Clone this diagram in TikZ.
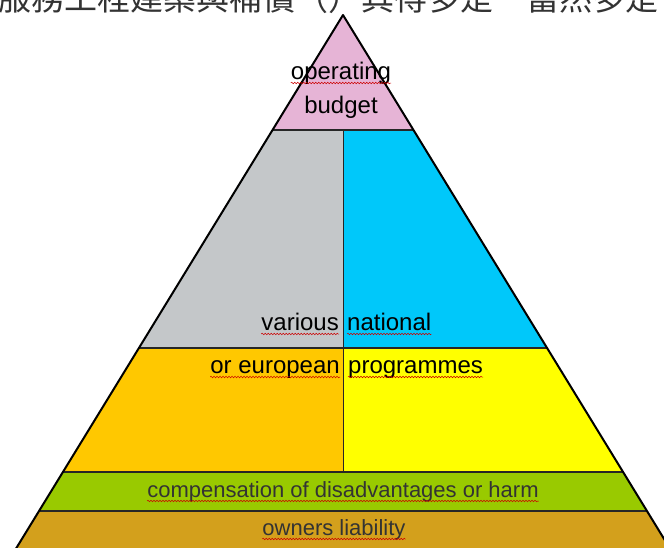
\documentclass[tikz,border=0pt]{standalone}
\usepackage{fontspec}
\setmainfont{Liberation Sans}
\newfontfamily\cjkfont{Noto Sans CJK TC}
\usetikzlibrary{decorations.pathmorphing}

\definecolor{budgetPink}{HTML}{E6B4D6}
\definecolor{variousGray}{HTML}{C4C7C9}
\definecolor{nationalBlue}{HTML}{00C8FA}
\definecolor{europeOrange}{HTML}{FFC800}
\definecolor{programYellow}{HTML}{FFFF00}
\definecolor{harmGreen}{HTML}{99CA00}
\definecolor{ownerBrown}{HTML}{D3A01C}

\tikzset{
  band line/.style={line width=1.3pt, black!85},
  word/.style={inner sep=0pt, font=\fontsize{24}{28}\selectfont},
  thin word/.style={inner sep=0pt, font=\fontsize{22}{26}\selectfont, black!80},
  spell/.style={red!80!black, line width=0.5pt, decorate,
    decoration={snake, amplitude=0.8pt, segment length=3pt}},
}

\begin{document}
\begin{tikzpicture}[x=1pt,y=-1pt]
  \useasboundingbox (0,0) rectangle (664,547);
  \clip (0,0) rectangle (664,547);

  % heading line above, cut off at the top
  \node[anchor=base west, inner sep=0pt, black!80,
        font=\cjkfont\fontsize{33}{36}\selectfont] (heading) at (-2,10)
        {服務工程建築與補償（）其得多是一當然多是一這};

  \coordinate (apex) at (343,15);
  \coordinate (baseL) at (9,560);
  \coordinate (baseR) at (677,560);

  \begin{scope}
    \clip (apex) -- (baseL) -- (baseR) -- cycle;
    \fill[budgetPink] (0,0) rectangle (664,130);
    \fill[variousGray] (0,130) rectangle (343,348);
    \fill[nationalBlue] (343,130) rectangle (664,348);
    \fill[europeOrange] (0,348) rectangle (343,472);
    \fill[programYellow] (343,348) rectangle (664,472);
    \fill[harmGreen] (0,472) rectangle (664,511);
    \fill[ownerBrown] (0,511) rectangle (664,560);
    \foreach \y in {130,348,472,511}
      \draw[band line] (0,\y) -- (664,\y);
    \draw[band line, line width=1pt] (343,130) -- (343,472);
  \end{scope}
  \draw[line width=2pt, line join=round] (baseL) -- (apex) -- (baseR);

  % labels
  \node[word, anchor=base] (operating) at (341,79) {operating};
  \node[word, anchor=base] (budget) at (341,113) {budget};
  \node[word, anchor=base east] (various) at (339,330) {various};
  \node[word, anchor=base west] (national) at (347,330) {national};
  \node[word, anchor=base east] (european) at (340,373) {or european};
  \node[word, anchor=base west] (programmes) at (348,373) {programmes};
  \node[thin word, anchor=base] (harm) at (343,497) {compensation of disadvantages or harm};
  \node[thin word, anchor=base] (owners) at (334,535) {owners liability};

  % wavy spell marks
  \foreach \n in {operating,various,national,european,programmes,harm,owners}
    \draw[spell] ([yshift=-4pt]\n.base west) -- ([yshift=-4pt]\n.base east);
\end{tikzpicture}
\end{document}
